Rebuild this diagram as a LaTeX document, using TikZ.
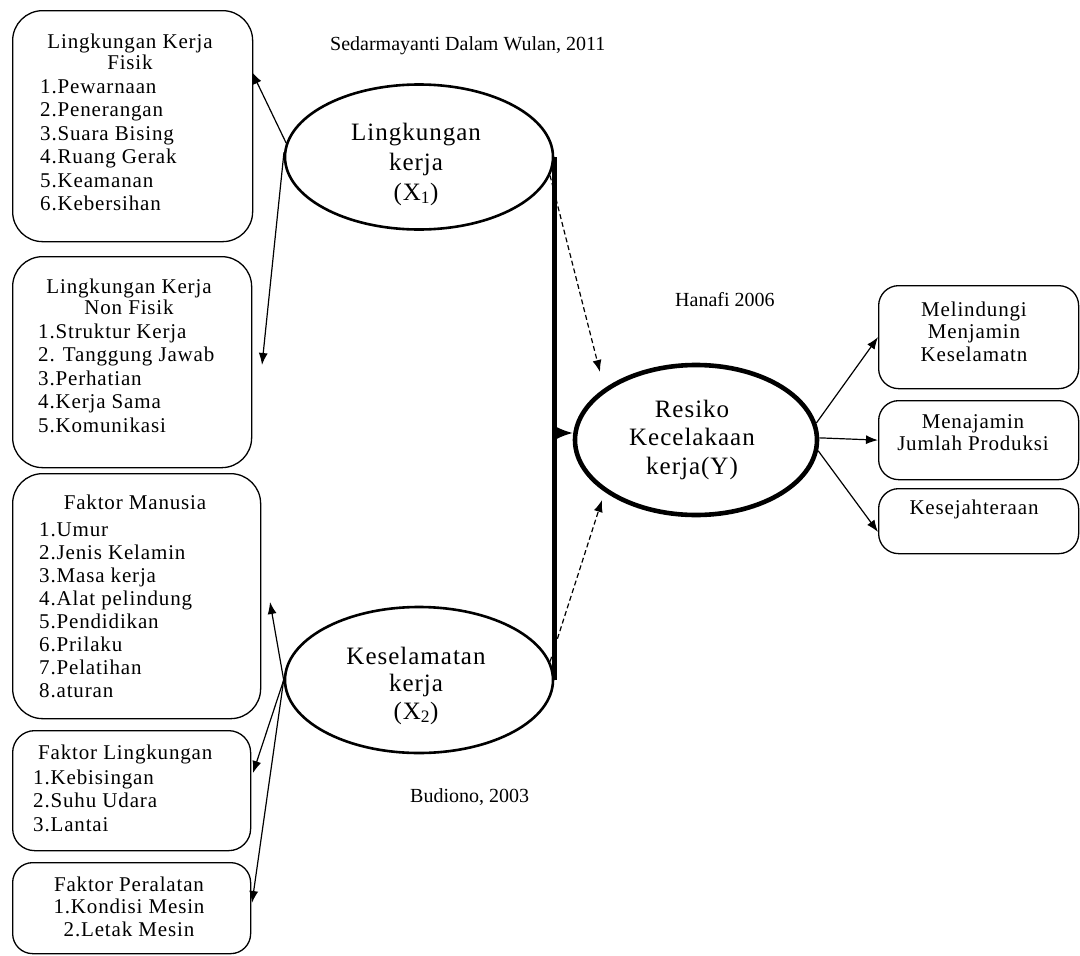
\documentclass[tikz,border=0pt]{standalone}
\usepackage{fontspec}
\setmainfont{Liberation Serif}
\newfontfamily\boxfont[LetterSpace=4]{Liberation Serif}
\usetikzlibrary{arrows.meta,shapes.geometric}
\newcommand\tstr{\rule{0pt}{16pt}}
\newcommand\estr{\rule{0pt}{19pt}}
\begin{document}
\begin{tikzpicture}[x=1pt,y=-1pt,
  box/.style={draw, line width=1.3pt, anchor=north west, inner sep=0pt},
  ell/.style={draw, ellipse, inner sep=0pt, line width=2.6pt},
  txt/.style={inner sep=0pt, font=\boxfont\fontsize{21}{#1}\selectfont},
  etxt/.style={inner sep=0pt, align=center, anchor=north, font=\boxfont\fontsize{25}{#1}\selectfont},
  cite/.style={inner sep=0pt, anchor=base west, font=\fontsize{20}{24}\selectfont},
  arr/.style={line width=1.2pt, -{Latex[length=12pt,width=9pt]}},
  darr/.style={arr, dash pattern=on 5pt off 3pt},
]
\useasboundingbox (0,0) rectangle (1080,956);

% left boxes
\node[box, rounded corners=30pt, minimum width=240pt, minimum height=231pt] (b1) at (12,10) {};
\node[txt=21, align=center, anchor=north] (b1t) at (130,32) {\tstr Lingkungan Kerja\\Fisik};
\node[txt=23.5, align=left, anchor=north west] (b1l) at (40,77) {\tstr 1.Pewarnaan\\2.Penerangan\\3.Suara Bising\\4.Ruang Gerak\\5.Keamanan\\6.Kebersihan};

\node[box, rounded corners=30pt, minimum width=239pt, minimum height=211pt] (b2) at (12,256) {};
\node[txt=21, align=center, anchor=north] (b2t) at (129,277) {\tstr Lingkungan Kerja\\Non Fisik};
\node[txt=23.5, align=left, anchor=north west] (b2l) at (38,322) {\tstr 1.Struktur Kerja\\2. Tanggung Jawab\\3.Perhatian\\4.Kerja Sama\\5.Komunikasi};

\node[box, rounded corners=30pt, minimum width=248pt, minimum height=245pt] (b3) at (12,473) {};
\node[txt=23, anchor=north] (b3t) at (135,493) {\tstr Faktor Manusia};
\node[txt=23.1, align=left, anchor=north west] (b3l) at (39,520) {\tstr 1.Umur\\2.Jenis Kelamin\\3.Masa kerja\\4.Alat pelindung\\5.Pendidikan\\6.Prilaku\\7.Pelatihan\\8.aturan};

\node[box, rounded corners=22pt, minimum width=238pt, minimum height=120pt] (b4) at (12,730) {};
\node[txt=23, anchor=north west] (b4t) at (38,743) {\tstr Faktor Lingkungan};
\node[txt=23.5, align=left, anchor=north west] (b4l) at (33,768) {\tstr 1.Kebisingan\\2.Suhu Udara\\3.Lantai};

\node[box, rounded corners=20pt, minimum width=238pt, minimum height=91pt] (b5) at (12,862) {};
\node[txt=22.5, align=center, anchor=north] (b5t) at (129,875) {\tstr Faktor Peralatan\\1.Kondisi Mesin\\2.Letak Mesin};

% ellipses
\node[ell, minimum width=268pt, minimum height=145pt] (x1) at (419,157) {};
\node[etxt=30] (x1t) at (416,121) {\estr Lingkungan\\kerja\\(X\textsubscript{1})};
\node[ell, minimum width=268pt, minimum height=146pt] (x2) at (419,680) {};
\node[etxt=27.5] (x2t) at (416,645) {\estr Keselamatan\\kerja\\(X\textsubscript{2})};
\node[ell, line width=4.6pt, minimum width=242pt, minimum height=150pt] (y) at (696,440) {};
\node[etxt=28.5] (yt) at (692,398) {\estr Resiko\\Kecelakaan\\kerja(Y)};

% right boxes
\node[box, rounded corners=20pt, minimum width=200pt, minimum height=103pt] (r1) at (878,285) {};
\node[txt=22.5, align=center, anchor=north] (r1t) at (974,300) {\tstr Melindungi\\Menjamin\\Keselamatn};
\node[box, rounded corners=20pt, minimum width=200pt, minimum height=79pt] (r2) at (878,400) {};
\node[txt=22, align=center, anchor=north] (r2t) at (973,412) {\tstr Menajamin\\Jumlah Produksi};
\node[box, rounded corners=20pt, minimum width=200pt, minimum height=65pt] (r3) at (878,488) {};
\node[txt=22, anchor=north] (r3t) at (974,498) {\tstr Kesejahteraan};

% citations
\node[cite] (c1) at (330,50) {Sedarmayanti Dalam Wulan, 2011};
\node[cite] (c2) at (675,306) {Hanafi 2006};
\node[cite] (c3) at (410,802) {Budiono, 2003};

% free ends
\coordinate (e1) at (252,72);
\coordinate (e2) at (262,365);
\coordinate (e3) at (270,602);
\coordinate (e4) at (253,773);
\coordinate (e5) at (252,903);
\coordinate (vj) at (553,433);
\coordinate (d1) at (600,372);
\coordinate (d2) at (602,500);
\coordinate (e8) at (878,532);

% connectors
\draw[arr] (x1.174) -- (e1);
\draw[arr] (x1.178) -- (e2);
\draw[arr] (x2.west) -- (e3);
\draw[arr] (x2.west) -- (e4);
\draw[arr] (x2.west) -- (e5);
\draw[line width=5pt] (x1.east) -- (x2.east);
\draw[line width=1.5pt, -{Latex[length=17pt,width=13pt]}] (vj) -- (y.west |- vj);
\draw[darr] (x1.-8) -- (d1);
\draw[darr] (x2.8) -- (d2);
\draw[arr] (y.8) -- (r1.west);
\draw[arr] (y.1) -- (r2.west);
\draw[arr] (y.-5) -- (e8);
\end{tikzpicture}
\end{document}
